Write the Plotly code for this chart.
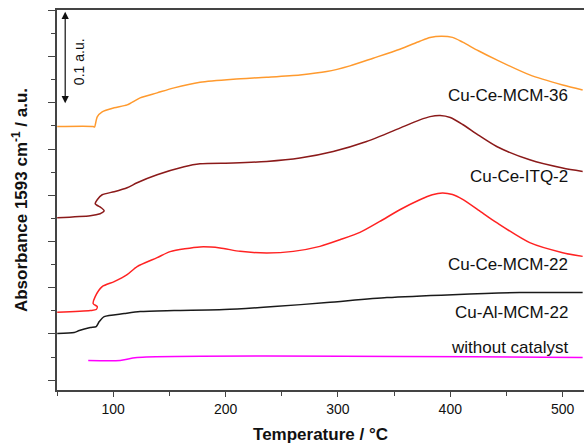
import plotly.graph_objects as go

# Temperature (°C) / absorbance (a.u.)
t_mcm36 = [50.2, 82.2, 83.4, 85.8, 90.2, 100.9, 112.4, 124.0, 139.1, 154.2, 177.3, 206.9,
           236.6, 266.2, 290.0, 310.7, 331.4, 355.1, 372.9, 382.0, 392.0, 402.0, 411.0, 425.0, 441.3, 470.7, 500.0, 517.8]
a_mcm36 = [0.2743, 0.2743, 0.2737, 0.2848, 0.2902, 0.2945, 0.2977, 0.3053, 0.3107, 0.3161, 0.3222, 0.3255,
           0.3276, 0.3301, 0.3337, 0.3399, 0.3482, 0.3579, 0.3665, 0.3705, 0.3720, 0.3707, 0.3655, 0.3562, 0.3463, 0.3301, 0.3193, 0.3139]

t_itq2 = [50.2, 79.6, 88.4, 90.2, 92.0, 89.3, 84.0, 85.8, 90.2, 100.9, 112.4, 121.3, 139.1, 163.1,
          177.3, 206.9, 236.6, 266.2, 295.8, 325.5, 355.1, 372.9, 382.0, 391.0, 400.0, 411.0, 425.0, 441.3, 470.7, 500.0, 517.8]
a_itq2 = [0.1757, 0.1779, 0.1800, 0.1811, 0.1833, 0.1865, 0.1908, 0.1951, 0.2005, 0.2038, 0.2081, 0.2135, 0.2221, 0.2308,
          0.2340, 0.2348, 0.2365, 0.2402, 0.2473, 0.2581, 0.2726, 0.2815, 0.2850, 0.2862, 0.2840, 0.2765, 0.2650, 0.2527, 0.2383, 0.2294, 0.2257]

t_mcm22 = [50.2, 79.6, 84.9, 85.8, 82.2, 84.0, 90.2, 100.9, 112.4, 121.3, 139.1, 150.7, 177.3, 195.1,
           212.9, 236.6, 260.3, 284.0, 301.8, 319.6, 337.3, 355.1, 372.9, 384.0, 393.0, 402.0, 411.0, 425.0, 441.3, 470.7, 500.0, 517.8]
a_mcm22 = [0.0734, 0.0753, 0.0764, 0.0796, 0.0828, 0.0904, 0.1012, 0.1066, 0.1141, 0.1228, 0.1325, 0.1390, 0.1441, 0.1430,
           0.1393, 0.1376, 0.1393, 0.1447, 0.1519, 0.1598, 0.1717, 0.1843, 0.1951, 0.2005, 0.2025, 0.2008, 0.1955, 0.1840, 0.1703, 0.1487, 0.1379, 0.1339]

t_al = [50.2, 65.3, 69.8, 79.6, 84.9, 87.6, 92.0, 109.8, 124.0, 154.2, 198.7, 243.1, 290.2, 343.6, 402.2, 461.8, 517.8]
a_al = [0.0504, 0.0515, 0.0537, 0.0569, 0.0580, 0.0634, 0.0688, 0.0720, 0.0742, 0.0753, 0.0764, 0.0796, 0.0839,
        0.0893, 0.0925, 0.0947, 0.0947]

t_blank = [77.8, 106.2, 121.3, 517.8]
a_blank = [0.0213, 0.0213, 0.0245, 0.0245]

labels = ["Cu-Ce-MCM-36", "Cu-Ce-ITQ-2", "Cu-Ce-MCM-22", "Cu-Al-MCM-22", "without catalyst"]
label_y = [0.3074, 0.2200, 0.1250, 0.0731, 0.0353]
label_x = 506.2
colors = ["#FF9A2E", "#8B1A1A", "#FF2222", "#1A1A1A", "#FF00FF"]

series = [(t_mcm36, a_mcm36), (t_itq2, a_itq2), (t_mcm22, a_mcm22), (t_al, a_al), (t_blank, a_blank)]

FONT = "Liberation Sans, Arial, sans-serif"

fig = go.Figure()
for (tx, ay), name, col in zip(series, labels, colors):
    fig.add_trace(go.Scatter(x=tx, y=ay, mode="lines", name=name,
                             line=dict(color=col, width=1.5, shape="spline", smoothing=0.7),
                             showlegend=False))

for name, yy in zip(labels, label_y):
    fig.add_annotation(x=label_x, y=yy, text=name, showarrow=False, xanchor="right", yanchor="middle",
                       font=dict(family=FONT, size=17, color="#111111"))

# scale bar 0.1 a.u.
fig.add_annotation(x=57.3, y=0.2995, ax=57.3, ay=0.4000, axref="x", ayref="y", xref="x", yref="y",
                   text="", showarrow=True, arrowhead=2, startarrowhead=2, arrowside="end+start",
                   arrowsize=1.2, arrowwidth=1.2, arrowcolor="#111111")
fig.add_annotation(x=69.8, y=0.3442, text="0.1 a.u.", showarrow=False, textangle=-90,
                   font=dict(family=FONT, size=14, color="#111111"))

fig.update_layout(
    width=584, height=444,
    margin=dict(l=57, r=0, t=10, b=54, autoexpand=False),
    plot_bgcolor="white", paper_bgcolor="white",
    font=dict(family=FONT, color="#111111"),
)
fig.update_xaxes(range=[50, 519], showline=True, linecolor="#444444", linewidth=1.5, mirror=True,
                 showgrid=False, zeroline=False, tickmode="linear", tick0=100, dtick=100, automargin=False,
                 ticks="outside", ticklen=5, tickwidth=1.2, tickcolor="#444444",
                 minor=dict(ticks="outside", ticklen=4, dtick=50, tick0=50, tickcolor="#444444", showgrid=False),
                 tickfont=dict(family=FONT, size=14, color="#111111"),
                 title=dict(text="<b>Temperature / °C</b>", font=dict(family=FONT, size=17, color="#111111"),
                            standoff=17))
fig.update_yaxes(range=[-0.0106, 0.4003], showline=True, linecolor="#444444", linewidth=1.5, mirror=False,
                 showgrid=False, zeroline=False, tickmode="linear", tick0=0, dtick=0.05, automargin=False,
                 ticks="outside", ticklen=7, tickwidth=1.2, tickcolor="#444444", showticklabels=False,
                 minor=dict(ticks="outside", ticklen=4, dtick=0.025, tick0=0.025, tickcolor="#444444", showgrid=False),
                 title=dict(text="<b>Absorbance 1593 cm<sup>-1</sup> / a.u.</b>",
                            font=dict(family=FONT, size=17, color="#111111"), standoff=16))

fig.write_html("out.html", config={"displayModeBar": False},
               post_script="document.body.style.margin='0px';")
